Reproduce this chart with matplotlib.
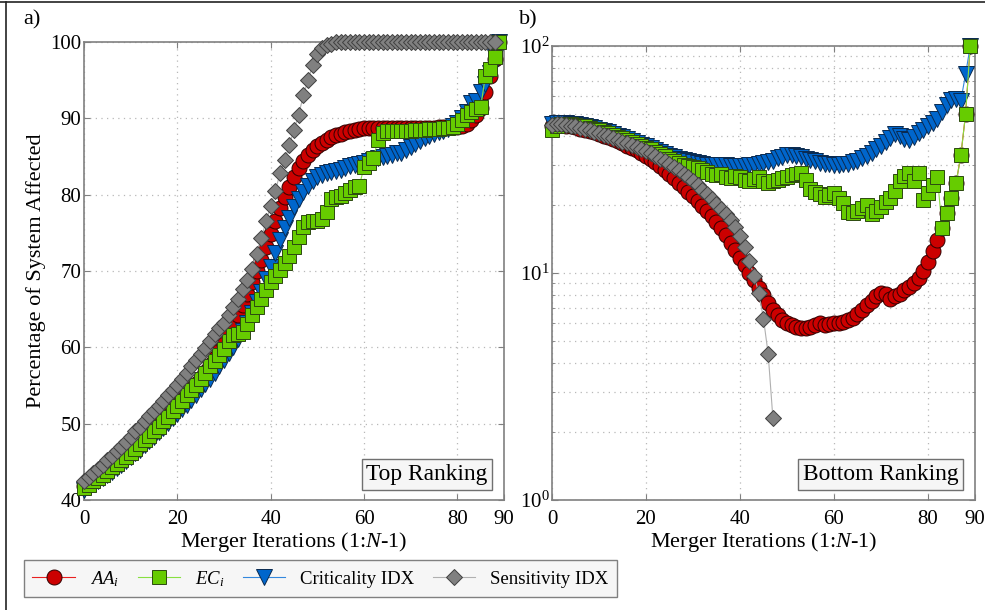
import matplotlib
matplotlib.use('Agg')
import matplotlib.pyplot as plt
from matplotlib.lines import Line2D
from matplotlib.ticker import LogLocator, NullFormatter

plt.rcParams.update({
    'font.family': 'Liberation Serif',
    'mathtext.fontset': 'custom',
    'mathtext.rm': 'Liberation Serif',
    'mathtext.it': 'Liberation Serif:italic',
})

# ---- data: panel a) top ranking (iterations 0..89) ----
iters = list(range(90))

aa_top = [
    41.8, 42.2, 42.6, 43.1, 43.5, 44.0, 44.5, 45.0, 45.5, 46.0,
    46.5, 47.0, 47.6, 48.1, 48.7, 49.3, 49.9, 50.5, 51.1, 51.8,
    52.4, 53.1, 53.8, 54.5, 55.2, 56.0, 56.8, 57.7, 58.6, 59.5,
    60.5, 61.7, 63.0, 64.3, 65.6, 67.0, 68.5, 70.0, 71.5, 73.1,
    74.8, 76.5, 78.2, 79.7, 81.0, 82.3, 83.5, 84.4, 85.2, 85.8,
    86.4, 86.8, 87.2, 87.5, 87.8, 88.0, 88.2, 88.4, 88.5, 88.6,
    88.7, 88.7, 88.8, 88.8, 88.8, 88.8, 88.8, 88.8, 88.8, 88.8,
    88.8, 88.8, 88.8, 88.8, 88.8, 88.8, 88.9, 88.9, 88.9, 88.9,
    88.9, 89.0, 89.3, 89.8, 90.4, 91.3, 93.5, 95.5, 97.8, 100.0]

ec_top = [
    41.6, 42.0, 42.5, 42.9, 43.3, 43.8, 44.3, 44.7, 45.2, 45.7,
    46.2, 46.7, 47.3, 47.8, 48.4, 49.0, 49.6, 50.3, 50.9, 51.6,
    52.3, 53.0, 53.7, 54.4, 55.1, 55.9, 56.7, 57.5, 58.2, 59.0,
    59.8, 60.8, 61.6, 61.8, 62.0, 63.0, 64.2, 65.3, 66.4, 67.5,
    68.5, 69.3, 70.1, 71.0, 72.0, 73.2, 74.5, 75.8, 76.4, 76.5,
    76.6, 76.8, 77.7, 79.5, 79.7, 79.8, 80.2, 80.6, 81.0, 81.2,
    83.6, 84.2, 84.8, 87.2, 88.1, 88.3, 88.3, 88.4, 88.4, 88.4,
    88.4, 88.5, 88.5, 88.5, 88.6, 88.6, 88.6, 88.7, 88.7, 88.9,
    89.3, 89.8, 90.4, 90.8, 91.2, 91.5, 95.5, 96.5, 98.0, 100.0]

crit_top = [
    41.3, 41.7, 42.1, 42.5, 42.9, 43.3, 43.7, 44.2, 44.6, 45.1,
    45.6, 46.1, 46.6, 47.2, 47.7, 48.3, 48.9, 49.5, 50.1, 50.7,
    51.3, 51.9, 52.5, 53.1, 53.8, 54.5, 55.2, 55.9, 56.7, 57.5,
    58.3, 59.2, 60.1, 61.1, 62.1, 63.2, 64.5, 65.9, 67.3, 68.9,
    70.5, 72.3, 74.0, 75.6, 77.0, 78.4, 79.5, 80.4, 81.2, 81.8,
    82.3, 82.6, 82.8, 83.0, 83.1, 83.3, 83.5, 83.7, 83.9, 84.0,
    84.2, 84.4, 84.6, 84.8, 84.9, 85.1, 85.2, 85.4, 85.5, 85.8,
    86.2, 86.6, 87.0, 87.4, 87.7, 88.0, 88.2, 88.4, 88.6, 89.0,
    89.4, 90.0, 90.8, 92.0, 92.3, 93.5, 94.5, 96.0, 98.0, 100.0]

sens_top = [
    42.5, 43.0, 43.5, 44.0, 44.6, 45.2, 45.8, 46.4, 47.0, 47.6,
    48.3, 49.0, 49.6, 50.3, 51.0, 51.6, 52.3, 53.0, 53.7, 54.4,
    55.1, 55.9, 56.7, 57.5, 58.3, 59.1, 59.9, 60.8, 61.7, 62.5,
    63.2, 64.2, 65.3, 66.4, 67.6, 68.8, 70.3, 72.2, 74.3, 76.5,
    78.5, 80.5, 82.8, 84.5, 86.5, 88.5, 90.5, 93.0, 95.0, 97.0,
    98.4, 99.2, 99.6, 99.8, 100.0, 100.0, 100.0, 100.0, 100.0, 100.0,
    100.0, 100.0, 100.0, 100.0, 100.0, 100.0, 100.0, 100.0, 100.0, 100.0,
    100.0, 100.0, 100.0, 100.0, 100.0, 100.0, 100.0, 100.0, 100.0, 100.0,
    100.0, 100.0, 100.0, 100.0, 100.0, 100.0, 100.0, 100.0, 100.0]

# ---- data: panel b) bottom ranking ----
aa_bot = [
    44.5, 45.0, 44.8, 44.6, 44.2, 43.8, 43.3, 42.8, 42.2, 41.6,
    41.0, 40.3, 39.6, 38.8, 38.0, 37.2, 36.4, 35.6, 34.7, 33.8,
    32.9, 31.9, 30.8, 29.7, 28.5, 27.3, 26.1, 25.0, 23.9, 22.8,
    21.8, 20.8, 19.8, 18.8, 17.8, 16.8, 15.8, 14.7, 13.6, 12.6,
    11.7, 10.8, 10.0, 9.3, 8.6, 8.0, 7.4, 6.9, 6.5, 6.2,
    6.0, 5.9, 5.8, 5.75, 5.75, 5.8, 5.9, 6.0, 5.9, 5.95,
    6.0, 6.05, 6.1, 6.2, 6.35, 6.6, 6.9, 7.2, 7.5, 7.9,
    8.2, 8.1, 7.7, 7.9, 8.1, 8.4, 8.7, 9.0, 9.5, 10.2,
    11.2, 12.5, 14.0, 15.8, 18.4, 21.3, 25.0, 33.0, 50.0, 100.0]

ec_bot = [
    42.5, 44.5, 45.5, 45.5, 45.3, 45.0, 44.6, 44.2, 43.7, 43.2,
    42.6, 42.0, 41.3, 40.6, 39.9, 39.2, 38.5, 37.8, 37.1, 36.4,
    35.7, 35.0, 34.2, 33.4, 32.6, 31.8, 31.1, 30.5, 30.0, 29.6,
    29.3, 29.0, 28.3, 27.8, 27.4, 27.0, 27.3, 26.6, 26.2, 26.8,
    26.4, 25.8, 25.3, 26.0, 26.4, 25.4, 24.9, 25.3, 25.7, 26.2,
    26.6, 27.0, 27.4, 27.6, 25.7, 23.4, 22.8, 22.3, 21.6, 22.0,
    22.5, 21.3, 20.3, 18.6, 18.4, 18.7, 19.3, 19.9, 18.2, 18.8,
    19.6, 20.5, 21.5, 23.0, 25.5, 26.8, 27.6, 25.3, 27.6, 21.0,
    22.5, 24.4, 26.5, 15.8, 18.4, 21.3, 25.0, 33.0, 50.0, 100.0]

crit_bot = [
    45.5, 46.0, 46.0, 45.8, 45.5, 45.2, 44.8, 44.4, 43.9, 43.4,
    42.8, 42.2, 41.6, 41.0, 40.3, 39.6, 38.9, 38.2, 37.5, 36.8,
    36.1, 35.4, 34.7, 34.0, 33.4, 32.8, 32.3, 31.8, 31.4, 31.0,
    30.7, 30.4, 30.2, 30.0, 29.9, 29.8, 29.8, 29.8, 29.7, 29.6,
    29.5, 29.6, 29.8, 30.0, 30.3, 30.6, 30.9, 31.2, 32.0, 32.5,
    33.0, 33.0, 32.8, 32.4, 31.9, 31.5, 31.0, 30.6, 30.3, 30.1,
    30.0, 30.0, 30.1, 30.3, 30.7, 31.3, 32.0, 32.8, 33.8, 35.0,
    36.3, 37.8, 39.5, 40.8, 40.0, 38.8, 38.5, 39.8, 41.3, 42.8,
    44.5, 45.8, 47.5, 51.0, 55.0, 58.0, 58.5, 57.5, 75.0, 100.0]

sens_bot = [
    45.0, 45.3, 45.2, 45.0, 44.6, 44.2, 43.7, 43.2, 42.6, 42.0,
    41.4, 40.7, 40.0, 39.3, 38.6, 37.9, 37.2, 36.5, 35.8, 35.2,
    34.6, 33.7, 32.8, 31.9, 31.0, 30.1, 29.2, 28.3, 27.4, 26.4,
    25.4, 24.3, 23.3, 22.2, 21.2, 20.2, 19.2, 18.2, 17.1, 15.9,
    14.5, 13.0, 11.3, 9.7, 8.2, 6.3, 4.4, 2.3]

labels = ['$AA_i$', '$EC_i$', 'Criticality IDX', 'Sensitivity IDX']
xticks = [0, 20, 40, 60, 80, 90]

RED, RED_L = '#cc0000', '#e82020'
GREEN, GREEN_L = '#66cc00', '#88e040'
BLUE, BLUE_L = '#0066cc', '#3388dd'
GRAY, GRAY_L = '#808080', '#b0b0b0'
SPINE = '#808080'
GRID = dict(color='#b8b8b8', linestyle=(0, (1, 3.5)), linewidth=0.9)


def series(ax, y1, y2, y3, y4):
    h = []
    h += ax.plot(iters[:len(y1)], y1, color=RED_L, lw=0.8, marker='o', ms=10.8,
                 mfc=RED, mec='#300000', mew=0.7, zorder=3, clip_on=False)
    h += ax.plot(iters[:len(y2)], y2, color=GREEN_L, lw=0.8, marker='s', ms=9.5,
                 mfc=GREEN, mec='#2c4a10', mew=0.7, zorder=5, clip_on=False)
    h += ax.plot(iters[:len(y3)], y3, color=BLUE_L, lw=0.8, marker='v', ms=11,
                 mfc=BLUE, mec='#0a2a50', mew=0.7, zorder=4, clip_on=False)
    h += ax.plot(iters[:len(y4)], y4, color=GRAY_L, lw=0.8, marker='D', ms=8.3,
                 mfc=GRAY, mec='#404040', mew=0.7, zorder=6, clip_on=False)
    return h


def frame(ax):
    for s in ax.spines.values():
        s.set_color(SPINE)
        s.set_linewidth(1.2)
    ax.tick_params(which='both', direction='in', top=True, right=True,
                   color=SPINE, labelsize=15)
    ax.tick_params(axis='x', pad=7)
    ax.tick_params(axis='y', pad=2)
    ax.tick_params(which='major', length=4)
    ax.tick_params(which='minor', length=2.5)
    ax.set_xlim(0, 90)
    ax.set_xticks(xticks)
    ax.set_xlabel('Merger Iterations (1:$N$-1)', fontsize=16, labelpad=1)
    ax.set_axisbelow(True)


fig = plt.figure(figsize=(9.85, 6.10), dpi=100)

# ── a) top ranking ─────────────────────────────────────────────
ax1 = fig.add_axes([0.0853, 0.1803, 0.4264, 0.7508])
handles = series(ax1, aa_top, ec_top, crit_top, sens_top)
frame(ax1)
ax1.set_ylim(40, 100)
ax1.set_yticks(range(40, 101, 10))
ax1.grid(True, **GRID)
ax1.set_ylabel('Percentage of System Affected', fontsize=16, labelpad=3)
ax1.text(0.961, 0.033, 'Top Ranking', transform=ax1.transAxes, ha='right', va='bottom',
         fontsize=16.8, zorder=10,
         bbox=dict(boxstyle='square,pad=0.2', fc='#f6f6f6', ec='#707070', lw=1))

# ── b) bottom ranking ──────────────────────────────────────────
ax2 = fig.add_axes([0.5604, 0.1803, 0.4294, 0.7443])
series(ax2, aa_bot, ec_bot, crit_bot, sens_bot)
ax2.set_yscale('log')
frame(ax2)
ax2.set_ylim(1, 100)
ax2.yaxis.set_major_locator(LogLocator(base=10, numticks=5))
ax2.yaxis.set_minor_locator(LogLocator(base=10, subs=range(2, 10), numticks=20))
ax2.yaxis.set_minor_formatter(NullFormatter())
ax2.grid(True, which='both', **GRID)
ax2.text(0.961, 0.033, 'Bottom Ranking', transform=ax2.transAxes, ha='right', va='bottom',
         fontsize=16.8, zorder=10,
         bbox=dict(boxstyle='square,pad=0.2', fc='#f6f6f6', ec='#707070', lw=1))

fig.text(23 / 985, 1 - 10 / 610, 'a)', fontsize=16, va='top')
fig.text(519 / 985, 1 - 10 / 610, 'b)', fontsize=16, va='top')

fig.legend(handles, labels, loc='lower left', bbox_to_anchor=(0.0244, 0.0213),
           borderaxespad=0, ncol=4, fontsize=13.5, fancybox=False, framealpha=1,
           facecolor='#f6f6f6', edgecolor='#808080', handlelength=2.25,
           columnspacing=1.0, handletextpad=0.8, borderpad=0.45)

# outer frame lines (top and left) as in the source figure
fig.add_artist(Line2D([0, 1], [1 - 2 / 610] * 2, color='#222222', lw=1.2,
                      transform=fig.transFigure))
fig.add_artist(Line2D([6 / 985] * 2, [0, 1 - 2 / 610], color='#222222', lw=1.2,
                      transform=fig.transFigure))

fig.savefig('out.png', dpi=100)
